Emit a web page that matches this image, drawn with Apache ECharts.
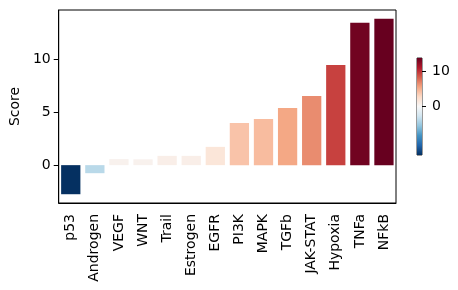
<!DOCTYPE html>
<html>
<head>
<meta charset="utf-8">
<script src="https://cdn.jsdelivr.net/npm/echarts@6/dist/echarts.min.js"></script>
<style>
html,body{margin:0;padding:0;background:#fff;}
#chart{width:458px;height:290px;}
</style>
</head>
<body>
<div id="chart"></div>
<script>
const categories = ['p53','Androgen','VEGF','WNT','Trail','Estrogen','EGFR','PI3K','MAPK','TGFb','JAK-STAT','Hypoxia','TNFa','NFkB'];
const scores = [-2.75, -0.76, 0.57, 0.55, 0.88, 0.88, 1.73, 3.98, 4.36, 5.40, 6.54, 9.48, 13.46, 13.84];
const yTicks = [0, 5, 10];
const cbarTicks = [0, 10];
// RdBu_r colormap control points (t = 0 .. 1)
const rdbuR = ['#053061','#2166ac','#4393c3','#92c5de','#d1e5f0','#f7f7f7','#fddbc7','#f4a582','#d6604d','#b2182b','#67001f'];

function hexToRgb(h){return [parseInt(h.slice(1,3),16),parseInt(h.slice(3,5),16),parseInt(h.slice(5,7),16)];}
function cmap(t){
  t = Math.max(0, Math.min(1, t));
  const n = rdbuR.length - 1;
  const p = t * n;
  const i = Math.min(Math.floor(p), n - 1);
  const f = p - i;
  const a = hexToRgb(rdbuR[i]), b = hexToRgb(rdbuR[i+1]);
  const c = a.map((v,k)=>Math.round(v + (b[k]-v)*f));
  return 'rgb(' + c.join(',') + ')';
}
const vmax = Math.max(...scores);
const vmin = Math.min(...scores);
function norm(v){ return v >= 0 ? 0.5 + 0.5 * v / vmax : 0.5 - 0.5 * v / vmin; }

const span = vmax - vmin;
const yMin = vmin - 0.05 * span;
const yMax = vmax + 0.05 * span;

const font = 'DejaVu Sans';
const chart = echarts.init(document.getElementById('chart'), null, {renderer: 'canvas'});
const cbStops = [];
for (let k = 0; k <= 40; k++) { const o = k / 40; cbStops.push({offset: o, color: cmap(1 - o)}); }

chart.setOption({
  animation: false,
  backgroundColor: '#fff',
  grid: [
    {left: 57, top: 10, width: 339, height: 193, show: true, borderColor: '#000', borderWidth: 1, backgroundColor: 'transparent'},
    {left: 417, top: 58, width: 5, height: 97, show: true, borderColor: '#000', borderWidth: 0.8, backgroundColor: 'transparent'}
  ],
  xAxis: [
    {
      type: 'category', gridIndex: 0, data: categories,
      axisLine: {onZero: false, lineStyle: {color: '#000', width: 1}},
      axisTick: {alignWithLabel: true, length: 5, lineStyle: {color: '#000'}},
      axisLabel: {rotate: 90, color: '#000', fontSize: 14, fontFamily: font, margin: 11, interval: 0}
    },
    {type: 'category', gridIndex: 1, data: ['c'], show: false}
  ],
  yAxis: [
    {
      type: 'value', gridIndex: 0, min: yMin, max: yMax,
      name: 'Score', nameLocation: 'middle', nameGap: 30,
      nameTextStyle: {color: '#000', fontSize: 14, fontFamily: font},
      splitLine: {show: false},
      axisLine: {show: true, lineStyle: {color: '#000'}},
      axisTick: {show: true, length: 5, lineStyle: {color: '#000'}, customValues: yTicks},
      axisLabel: {color: '#000', fontSize: 14, fontFamily: font, margin: 8, customValues: yTicks}
    },
    {
      type: 'value', gridIndex: 1, min: -vmax, max: vmax, position: 'right',
      splitLine: {show: false},
      axisLine: {show: false},
      axisTick: {show: true, length: 4, lineStyle: {color: '#000'}, customValues: cbarTicks},
      axisLabel: {color: '#000', fontSize: 14, fontFamily: font, margin: 10, customValues: cbarTicks}
    }
  ],
  series: [
    {
      type: 'bar', xAxisIndex: 0, yAxisIndex: 0,
      barWidth: '80%',
      data: scores.map(v => ({value: v, itemStyle: {color: cmap(norm(v))}}))
    },
    {
      type: 'custom', xAxisIndex: 1, yAxisIndex: 1,
      data: [[0, vmax]],
      renderItem: function(params, api){
        const cs = params.coordSys;
        return {
          type: 'rect',
          shape: {x: cs.x, y: cs.y, width: cs.width, height: cs.height},
          style: {fill: new echarts.graphic.LinearGradient(0, 0, 0, 1, cbStops)}
        };
      }
    }
  ]
});
</script>
</body>
</html>
